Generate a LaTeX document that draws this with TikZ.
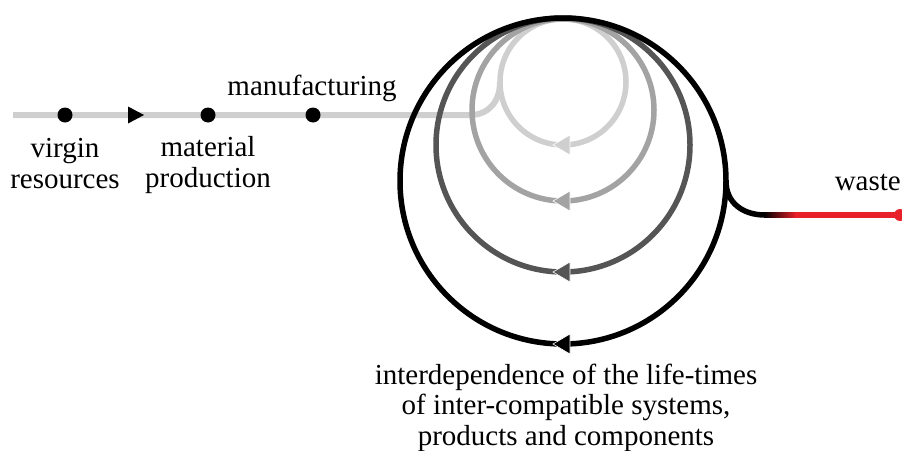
\documentclass[tikz,border=0pt]{standalone}
\usepackage{fontspec}
\setmainfont{Liberation Serif}
\definecolor{cone}{HTML}{CFCFCF}
\definecolor{ctwo}{HTML}{A3A3A3}
\definecolor{cthree}{HTML}{555555}
\definecolor{cfour}{HTML}{000000}
\definecolor{wred}{HTML}{E8202A}
\begin{document}
\begin{tikzpicture}[x=1pt,y=-1pt,
  lbl/.style={font=\fontsize{29}{30.5}\selectfont, inner sep=0pt, align=center},
  dot/.style={circle, fill=black, minimum size=15pt, inner sep=0pt},
  ring/.style={line width=5.5pt},
  tri/.style={draw=white, line width=0.6pt},
]
\useasboundingbox (0,0) rectangle (902,450);
% main flow line
\coordinate (start) at (13,115);
\coordinate (bend) at (470,115);
\coordinate (join) at (500,82);
\draw[cone, line width=6pt] (start) -- (bend) .. controls (489,115) and (500,101) .. (join);
\node[dot] (vr) at (65,115) {};
\node[dot] (mp) at (208,115) {};
\node[dot] (mf) at (313,115) {};
\fill[black] (128,106.5) -- (144,115) -- (128,123.5) -- cycle;
% nested loops
\draw[ring, cone] (563,82) circle[radius=63];
\draw[ring, ctwo] (563,110) circle[radius=91];
\draw[ring, cthree] (563,145) circle[radius=127];
\draw[ring, cfour] (563,181) circle[radius=163];
% arrows at the bottom of the loops
\foreach \yy/\cc in {145/cone, 201/ctwo, 272/cthree, 344/cfour}{
  \filldraw[tri, fill=\cc] (553,\yy) -- (570,\yy-10) -- (570,\yy+10) -- cycle;
}
% waste exit
\coordinate (c4r) at (726,181);
\coordinate (wk) at (765,215);
\coordinate (gr) at (795,215);
\coordinate (wend) at (900,215);
\draw[black, line width=5.5pt] (c4r) .. controls (726,203) and (743,215) .. (wk);
\shade[left color=black, right color=wred] (764,212.25) rectangle (796,217.75);
\draw[wred, line width=5.5pt] (gr) -- (wend);
\fill[wred] (wend) circle[radius=6];
% labels
\node[lbl, anchor=base] (vrl) at (65,188) {virgin\\resources};
\node[lbl, anchor=base] (mpl) at (208,187) {material\\production};
\node[lbl, anchor=base] (mfl) at (312,95) {manufacturing};
\node[lbl, anchor=base east] (wl) at (901,190) {waste};
\node[lbl, anchor=base] (bl) at (566,445) {interdependence of the life-times\\of inter-compatible systems,\\products and components};
\end{tikzpicture}
\end{document}
